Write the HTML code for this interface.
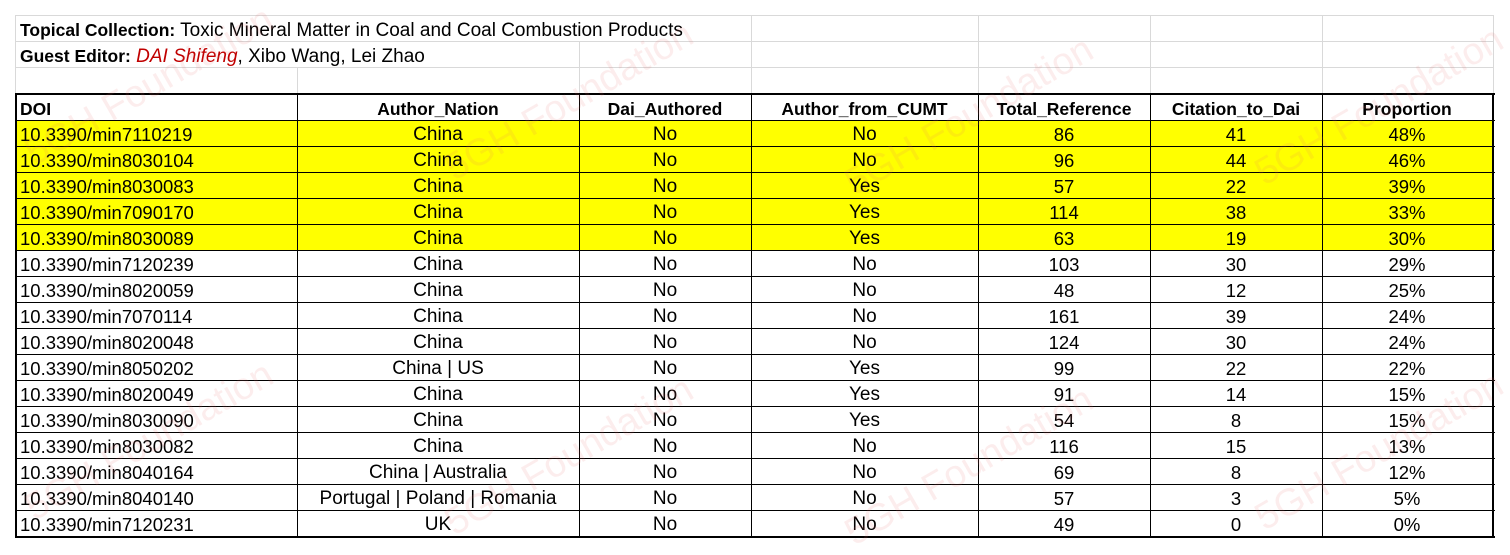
<!DOCTYPE html>
<html>
<head>
<meta charset="utf-8">
<style>
  html,body{margin:0;padding:0;background:#fff;}
  body{width:1510px;height:553px;position:relative;overflow:hidden;font-family:"Liberation Sans",Arial,sans-serif;font-size:18.5px;color:#000;}
  .h{position:absolute;height:1px;background:#000;}
  .v{position:absolute;width:1px;background:#000;}
  .gh{position:absolute;height:1px;background:#d9d9d9;}
  .gv{position:absolute;width:1px;background:#d9d9d9;}
  .row{position:absolute;left:17px;height:26px;display:flex;line-height:29px;white-space:nowrap;}
  .row div{text-align:center;overflow:visible;height:26px;}
  .row .c1{width:277px;text-align:left;padding-left:3px;}
  .c2{width:282px;font-size:19px;}.c3{width:172px;font-size:19px;}.c4{width:227px;font-size:19px;}.c5{width:172px}.c6{width:172px}.c7{width:170px}
  .row.hdr{font-weight:bold;line-height:30px;}
  .hdr div{font-size:17.5px !important;}
  .y{background:#ffff00;}
  .title{position:absolute;left:20px;height:26px;line-height:27px;white-space:nowrap;font-size:19px;}
  .title b{font-size:17.5px;}
  .wm{position:absolute;font-size:38px;color:rgba(230,110,110,0.12);transform:rotate(-30deg);transform-origin:center;white-space:nowrap;pointer-events:none;}
</style>
</head>
<body>
<!-- light gridlines top area -->
<div class="gh" style="left:15px;top:15px;width:1479px;"></div>
<div class="gh" style="left:15px;top:41px;width:1479px;"></div>
<div class="gh" style="left:15px;top:67px;width:1479px;"></div>
<div class="gv" style="left:15px;top:15px;height:79px;"></div>
<div class="gv" style="left:297px;top:67px;height:27px;"></div>
<div class="gv" style="left:579px;top:41px;height:53px;"></div>
<div class="gv" style="left:751px;top:15px;height:79px;"></div>
<div class="gv" style="left:978px;top:15px;height:79px;"></div>
<div class="gv" style="left:1150px;top:15px;height:79px;"></div>
<div class="gv" style="left:1322px;top:15px;height:79px;"></div>
<div class="gv" style="left:1493px;top:15px;height:79px;"></div>

<div class="title" style="top:17px;"><b>Topical Collection:</b> Toxic Mineral Matter in Coal and Coal Combustion Products</div>
<div class="title" style="top:43px;"><b>Guest Editor:</b> <i style="color:#c00000;">DAI Shifeng</i>, Xibo Wang, Lei Zhao</div>

<!-- rows -->
<div class="row hdr" style="top:94px;"><div class="c1">DOI</div><div class="c2">Author_Nation</div><div class="c3">Dai_Authored</div><div class="c4">Author_from_CUMT</div><div class="c5">Total_Reference</div><div class="c6">Citation_to_Dai</div><div class="c7">Proportion</div></div>
<div class="row y" style="top:120px;"><div class="c1">10.3390/min7110219</div><div class="c2">China</div><div class="c3">No</div><div class="c4">No</div><div class="c5">86</div><div class="c6">41</div><div class="c7">48%</div></div>
<div class="row y" style="top:146px;"><div class="c1">10.3390/min8030104</div><div class="c2">China</div><div class="c3">No</div><div class="c4">No</div><div class="c5">96</div><div class="c6">44</div><div class="c7">46%</div></div>
<div class="row y" style="top:172px;"><div class="c1">10.3390/min8030083</div><div class="c2">China</div><div class="c3">No</div><div class="c4">Yes</div><div class="c5">57</div><div class="c6">22</div><div class="c7">39%</div></div>
<div class="row y" style="top:198px;"><div class="c1">10.3390/min7090170</div><div class="c2">China</div><div class="c3">No</div><div class="c4">Yes</div><div class="c5">114</div><div class="c6">38</div><div class="c7">33%</div></div>
<div class="row y" style="top:224px;"><div class="c1">10.3390/min8030089</div><div class="c2">China</div><div class="c3">No</div><div class="c4">Yes</div><div class="c5">63</div><div class="c6">19</div><div class="c7">30%</div></div>
<div class="row" style="top:250px;"><div class="c1">10.3390/min7120239</div><div class="c2">China</div><div class="c3">No</div><div class="c4">No</div><div class="c5">103</div><div class="c6">30</div><div class="c7">29%</div></div>
<div class="row" style="top:276px;"><div class="c1">10.3390/min8020059</div><div class="c2">China</div><div class="c3">No</div><div class="c4">No</div><div class="c5">48</div><div class="c6">12</div><div class="c7">25%</div></div>
<div class="row" style="top:302px;"><div class="c1">10.3390/min7070114</div><div class="c2">China</div><div class="c3">No</div><div class="c4">No</div><div class="c5">161</div><div class="c6">39</div><div class="c7">24%</div></div>
<div class="row" style="top:328px;"><div class="c1">10.3390/min8020048</div><div class="c2">China</div><div class="c3">No</div><div class="c4">No</div><div class="c5">124</div><div class="c6">30</div><div class="c7">24%</div></div>
<div class="row" style="top:354px;"><div class="c1">10.3390/min8050202</div><div class="c2">China | US</div><div class="c3">No</div><div class="c4">Yes</div><div class="c5">99</div><div class="c6">22</div><div class="c7">22%</div></div>
<div class="row" style="top:380px;"><div class="c1">10.3390/min8020049</div><div class="c2">China</div><div class="c3">No</div><div class="c4">Yes</div><div class="c5">91</div><div class="c6">14</div><div class="c7">15%</div></div>
<div class="row" style="top:406px;"><div class="c1">10.3390/min8030090</div><div class="c2">China</div><div class="c3">No</div><div class="c4">Yes</div><div class="c5">54</div><div class="c6">8</div><div class="c7">15%</div></div>
<div class="row" style="top:432px;"><div class="c1">10.3390/min8030082</div><div class="c2">China</div><div class="c3">No</div><div class="c4">No</div><div class="c5">116</div><div class="c6">15</div><div class="c7">13%</div></div>
<div class="row" style="top:458px;"><div class="c1">10.3390/min8040164</div><div class="c2">China | Australia</div><div class="c3">No</div><div class="c4">No</div><div class="c5">69</div><div class="c6">8</div><div class="c7">12%</div></div>
<div class="row" style="top:484px;"><div class="c1">10.3390/min8040140</div><div class="c2">Portugal | Poland | Romania</div><div class="c3">No</div><div class="c4">No</div><div class="c5">57</div><div class="c6">3</div><div class="c7">5%</div></div>
<div class="row" style="top:510px;"><div class="c1">10.3390/min7120231</div><div class="c2">UK</div><div class="c3">No</div><div class="c4">No</div><div class="c5">49</div><div class="c6">0</div><div class="c7">0%</div></div>

<!-- table lines -->
<div class="h" style="left:15px;top:93px;width:1480px;height:2px;"></div>
<div class="h" style="left:15px;top:120px;width:1480px;"></div>
<div class="h" style="left:15px;top:146px;width:1480px;"></div>
<div class="h" style="left:15px;top:172px;width:1480px;"></div>
<div class="h" style="left:15px;top:198px;width:1480px;"></div>
<div class="h" style="left:15px;top:224px;width:1480px;"></div>
<div class="h" style="left:15px;top:250px;width:1480px;"></div>
<div class="h" style="left:15px;top:276px;width:1480px;"></div>
<div class="h" style="left:15px;top:302px;width:1480px;"></div>
<div class="h" style="left:15px;top:328px;width:1480px;"></div>
<div class="h" style="left:15px;top:354px;width:1480px;"></div>
<div class="h" style="left:15px;top:380px;width:1480px;"></div>
<div class="h" style="left:15px;top:406px;width:1480px;"></div>
<div class="h" style="left:15px;top:432px;width:1480px;"></div>
<div class="h" style="left:15px;top:458px;width:1480px;"></div>
<div class="h" style="left:15px;top:484px;width:1480px;"></div>
<div class="h" style="left:15px;top:510px;width:1480px;"></div>
<div class="h" style="left:15px;top:536px;width:1480px;height:2px;"></div>

<div class="v" style="left:15px;top:93px;height:445px;width:2px;"></div>
<div class="v" style="left:297px;top:93px;height:445px;"></div>
<div class="v" style="left:579px;top:93px;height:445px;"></div>
<div class="v" style="left:751px;top:93px;height:445px;"></div>
<div class="v" style="left:978px;top:93px;height:445px;"></div>
<div class="v" style="left:1150px;top:93px;height:445px;"></div>
<div class="v" style="left:1322px;top:93px;height:445px;"></div>
<div class="v" style="left:1492px;top:93px;height:445px;width:2px;"></div>

<!-- watermarks -->
<div class="wm" style="left:10px;top:65px;">5GH Foundation</div>
<div class="wm" style="left:430px;top:80px;">5GH Foundation</div>
<div class="wm" style="left:830px;top:95px;">5GH Foundation</div>
<div class="wm" style="left:1240px;top:85px;">5GH Foundation</div>
<div class="wm" style="left:10px;top:420px;">5GH Foundation</div>
<div class="wm" style="left:430px;top:435px;">5GH Foundation</div>
<div class="wm" style="left:830px;top:445px;">5GH Foundation</div>
<div class="wm" style="left:1240px;top:430px;">5GH Foundation</div>
</body>
</html>
